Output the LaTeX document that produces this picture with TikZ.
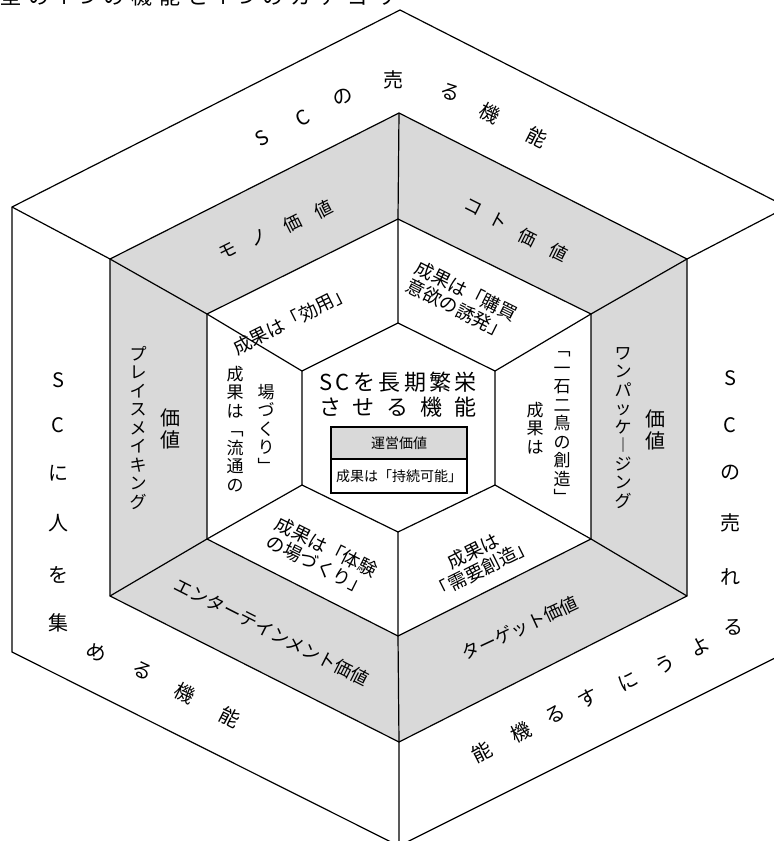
\documentclass[tikz,border=0pt]{standalone}
\usepackage{fontspec}
\setmainfont{Noto Sans CJK JP}
\newfontfamily\jp{Noto Sans CJK JP}
\newcommand\fsz[1]{\fontsize{#1}{#1}\selectfont}
\begin{document}
\begin{tikzpicture}[x=1pt,y=-1pt,
  hexline/.style={line width=1.2pt, line join=miter},
  band/.style={font=\jp\fsz{20}, inner sep=0pt},
  glab/.style={font=\jp\fsz{18}, inner sep=0pt},
  wlab/.style={font=\jp\fontsize{18.5}{20}\selectfont, inner sep=0pt, align=center},
  vcol/.style={font=\jp\fontsize{17}{18.5}\selectfont, inner sep=0pt, align=center},
  vcolbig/.style={font=\jp\fontsize{20}{22}\selectfont, inner sep=0pt, align=center},
  boxline/.style={line width=2pt}]
\useasboundingbox (0,0) rectangle (774,841);
\clip (0,0) rectangle (774,841);
% outer hexagon
\coordinate (oT) at (400,10);  \coordinate (oUL) at (12,207); \coordinate (oLL) at (12,652);
\coordinate (oB) at (399,846); \coordinate (oLR) at (787,652); \coordinate (oUR) at (787,207);
% gray hexagon
\coordinate (gT) at (399,113); \coordinate (gUL) at (110,259); \coordinate (gLL) at (110,596);
\coordinate (gB) at (399,742); \coordinate (gLR) at (687,596); \coordinate (gUR) at (687,259);
% inner white hexagon
\coordinate (iT) at (398,219); \coordinate (iUL) at (207,314); \coordinate (iLL) at (207,539);
\coordinate (iB) at (398,636); \coordinate (iLR) at (591,539); \coordinate (iUR) at (591,314);
% center hexagon
\coordinate (cT) at (398,323); \coordinate (cUL) at (302,371); \coordinate (cLL) at (302,485);
\coordinate (cB) at (398,532); \coordinate (cLR) at (495,485); \coordinate (cUR) at (495,371);

\fill[black!15, even odd rule] (gT)--(gUL)--(gLL)--(gB)--(gLR)--(gUR)--cycle
  (iT)--(iUL)--(iLL)--(iB)--(iLR)--(iUR)--cycle;
\draw[hexline] (oT)--(oUL)--(oLL)--(oB)--(oLR)--(oUR)--cycle;
\draw[hexline] (gT)--(gUL)--(gLL)--(gB)--(gLR)--(gUR)--cycle;
\draw[hexline] (iT)--(iUL)--(iLL)--(iB)--(iLR)--(iUR)--cycle;
\draw[hexline] (cT)--(cUL)--(cLL)--(cB)--(cLR)--(cUR)--cycle;
% radial lines
\draw[hexline] (oUL)--(gUL) (oUR)--(gUR) (oB)--(gB);
\draw[hexline] (gT)--(iT) (gUL)--(iUL) (gLL)--(iLL) (gB)--(iB) (gLR)--(iLR) (gUR)--(iUR);
\draw[hexline] (iT)--(cT) (iUL)--(cUL) (iLL)--(cLL) (iB)--(cB) (iLR)--(cLR) (iUR)--(cUR);

% title (cut off at top)
\node[anchor=base west, inner sep=0pt, font=\jp\fsz{21}] (title) at (0,4)
  {\makebox[396pt][s]{型\hfill の\hfill 4\hfill つ\hfill の\hfill 機\hfill 能\hfill と\hfill 4\hfill つ\hfill の\hfill カ\hfill テ\hfill ゴ\hfill リ}};

% top band: SCの売る機能
\node[band, rotate=30] (t1) at (262,138) {S};
\node[band, rotate=28] (t2) at (303,118) {C};
\node[band, rotate=18] (t3) at (343,97) {の};
\node[band] (t4) at (393,80) {売};
\node[band, rotate=-20] (t5) at (450,92) {る};
\node[band, rotate=-27] (t6) at (490,113) {機};
\node[band, rotate=-27] (t7) at (537,137) {能};

% left band: SCに人を集める機能
\node[band] (l1) at (58,380) {S};
\node[band] (l2) at (58,425) {C};
\node[band] (l3) at (58,473) {に};
\node[band] (l4) at (58,523) {人};
\node[band] (l5) at (58,575) {を};
\node[band] (l6) at (58,623) {集};
\node[band, rotate=-27] (l7) at (97,652) {め};
\node[band, rotate=-27] (l8) at (143,671) {る};
\node[band, rotate=-27] (l9) at (185,693) {機};
\node[band, rotate=-27] (l10) at (230,717) {能};

% right band: SCの売れるようにする機能
\node[band] (r1) at (730,378) {S};
\node[band] (r2) at (730,425) {C};
\node[band] (r3) at (730,473) {の};
\node[band] (r4) at (730,523) {売};
\node[band] (r5) at (730,577) {れ};
\node[band] (r6) at (733,627) {る};
\node[band, rotate=27] (r7) at (700,646) {よ};
\node[band, rotate=27] (r8) at (665,664) {う};
\node[band, rotate=27] (r9) at (628,681) {に};
\node[band, rotate=27] (r10) at (588,698) {す};
\node[band, rotate=27] (r11) at (555,715) {る};
\node[band, rotate=27] (r12) at (521,732) {機};
\node[band, rotate=27] (r13) at (482,752) {能};

% gray band labels
\node[glab, rotate=26.6] (m1) at (228,251) {モ};
\node[glab, rotate=26.6] (m2) at (259,238) {ノ};
\node[glab, rotate=26.6] (m3) at (292,223) {価};
\node[glab, rotate=26.6] (m4) at (323,209) {値};
\node[glab, rotate=-26.6] (k1) at (473,207) {コ};
\node[glab, rotate=-26.6] (k2) at (499,221) {ト};
\node[glab, rotate=-26.6] (k3) at (528,237) {価};
\node[glab, rotate=-26.6] (k4) at (559,252) {値};
\node[vcol] (pm1) at (138,428) {プ\\レ\\イ\\ス\\メ\\イ\\キ\\ン\\グ};
\node[vcolbig] (pm2) at (170,429) {価\\値};
\node[vcol] (wp1) at (623,428) {ワ\\ン\\パ\\ッ\\ケ\\︱\\ジ\\ン\\グ};
\node[vcolbig] (wp2) at (655,430) {価\\値};
\node[glab, rotate=-27] (en) at (272,632) {エンターテインメント価値};
\node[glab, rotate=25] (tg) at (520,628) {ターゲット価値};

% inner white band labels
\node[wlab, rotate=26.6] (w1) at (292,320) {成果は「効用」};
\node[wlab, rotate=-26.6] (w2) at (462,300) {成果は「購買\\意欲の誘発」};
\node[vcol] (w3a) at (235,429) {成\\果\\は\\﹁\\流\\通\\の};
\node[vcol] (w3b) at (266,428) {場\\づ\\く\\り\\﹂};
\node[vcol] (w4a) at (535,428) {成\\果\\は};
\node[vcol] (w4b) at (562,428) {﹁\\一\\石\\二\\鳥\\の\\創\\造\\﹂};
\node[wlab, rotate=-26.6] (w5) at (322,556) {成果は「体験\\の場づくり」};
\node[wlab, rotate=26.6] (w6) at (478,560) {成果は\\「需要創造」};

% center
\node[inner sep=0pt, font=\jp\fsz{22}] (c1) at (398,382)
  {\makebox[158pt][s]{S\hfill C\hfill を\hfill 長\hfill 期\hfill 繁\hfill 栄}};
\node[inner sep=0pt, font=\jp\fsz{22}] (c2) at (398,407)
  {\makebox[158pt][s]{さ\hfill せ\hfill る\hfill 機\hfill 能}};
\draw[boxline, fill=black!15] (331,427) rectangle (467,459);
\draw[boxline] (331,459) rectangle (467,493);
\node[inner sep=0pt, font=\jp\fsz{14}] (c3) at (399,443) {運営価値};
\node[inner sep=0pt, font=\jp\fsz{14}] (c4) at (399,476) {成果は「持続可能」};
\end{tikzpicture}
\end{document}
